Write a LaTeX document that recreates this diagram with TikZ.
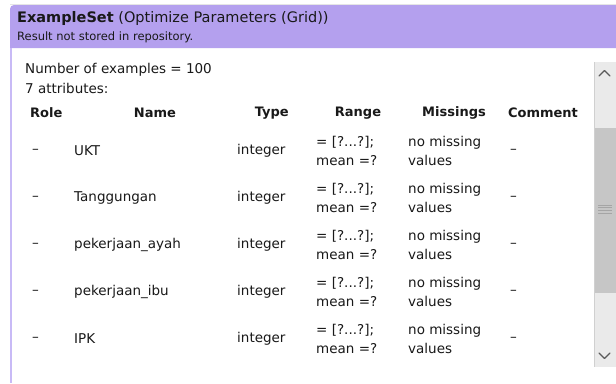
\documentclass[tikz,border=0pt]{standalone}
\usepackage{fontspec}
\setmainfont{DejaVu Sans}
\definecolor{hdr}{RGB}{180,160,238}
\definecolor{hdrline}{RGB}{200,186,246}
\definecolor{ink}{RGB}{25,25,25}
\definecolor{track}{RGB}{234,234,234}
\definecolor{trackedge}{RGB}{208,208,208}
\definecolor{thumb}{RGB}{198,198,198}
\definecolor{grip}{RGB}{165,165,165}
\definecolor{arrowink}{RGB}{90,90,90}
\begin{document}
\begin{tikzpicture}[x=1pt,y=-1pt,
  txt/.style={anchor=west,inner sep=0pt,text=ink,font=\fontsize{13.5}{15}\selectfont},
  colhead/.style={txt,font=\bfseries\fontsize{13}{15}\selectfont},
  cell/.style={txt,align=left,font=\fontsize{13.5}{18.5}\selectfont},
  chevron/.style={draw=arrowink,line width=1.3pt,line cap=round,line join=round}]
\useasboundingbox (0,0) rectangle (616,383);
\fill[white] (0,0) rectangle (616,383);

% title bar
\fill[black!10] (10,4) rectangle (616,5);
\fill[hdr] (10,48) [rounded corners=4pt] -- (10,5) [sharp corners] -- (616,5) -- (616,48) -- cycle;
\draw[hdrline,line width=1.5pt] (10.75,48) -- (10.75,383);
\node[txt,font=\fontsize{14.5}{16}\selectfont] (title) at (17,18)
  {\textbf{ExampleSet} (Optimize Parameters (Grid))};
\node[txt,font=\fontsize{11.5}{13}\selectfont] (sub) at (17,37)
  {Result not stored in repository.};

% summary
\node[txt] (count) at (25,70) {Number of examples = 100};
\node[txt] (nattr) at (25,88) {7 attributes:};

% column headers
\node[colhead] (hrole) at (30,113) {Role};
\node[colhead,anchor=center] (hname) at (155,113) {Name};
\node[colhead,anchor=east] (htype) at (289,113) {Type};
\node[colhead,anchor=center] (hrange) at (358,113) {Range};
\node[colhead,anchor=center] (hmiss) at (454,113) {Missings};
\node[colhead,anchor=center] (hcomm) at (543,113) {Comment};

% attribute rows
\foreach \nm [count=\i] in {UKT,Tanggungan,pekerjaan\_ayah,pekerjaan\_ibu,IPK} {
  \pgfmathsetmacro{\yy}{151+47*(\i-1)}
  \node[txt] (role\i) at (32,\yy) {–};
  \node[txt] (name\i) at (74,\yy) {\nm};
  \node[txt] (type\i) at (237,\yy) {integer};
  \node[cell] (range\i) at (316,\yy) {= [?...?];\\mean =?};
  \node[cell] (miss\i) at (408,\yy) {no missing\\values};
  \node[txt] (comm\i) at (510,\yy) {–};
}

% vertical scrollbar
\fill[track] (594,62) rectangle (616,367);
\fill[thumb] (594,128) rectangle (616,293);
\draw[trackedge] (594.5,62) -- (594.5,367);
\foreach \g in {205,207.7,210.4,213.1}
  \draw[grip,line width=0.8pt] (598,\g) -- (612,\g);
\draw[chevron] (599,76) -- (604.5,70.5) -- (610,76);
\draw[chevron] (599,353) -- (604.5,358.5) -- (610,353);
\end{tikzpicture}
\end{document}
